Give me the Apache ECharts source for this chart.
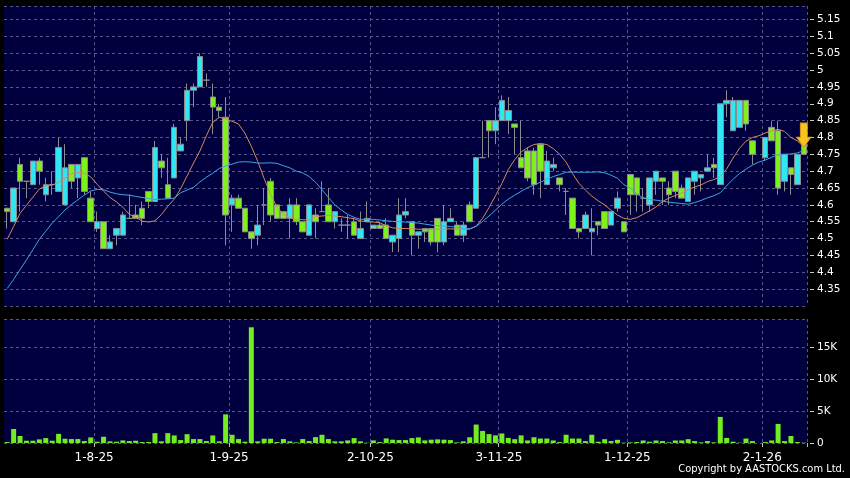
<!DOCTYPE html>
<html>
<head>
<meta charset="utf-8">
<script src="https://cdn.jsdelivr.net/npm/echarts@6/dist/echarts.min.js"></script>
<style>
html,body{margin:0;padding:0;background:#000;}
#chart{width:850px;height:478px;}
</style>
</head>
<body>
<div id="chart"></div>
<script>
const dates = [
'2025-07-14','2025-07-15','2025-07-16','2025-07-17','2025-07-18','2025-07-21','2025-07-22','2025-07-23','2025-07-24','2025-07-25',
'2025-07-28','2025-07-29','2025-07-30','2025-07-31','2025-08-01','2025-08-04','2025-08-05','2025-08-06','2025-08-07','2025-08-08',
'2025-08-11','2025-08-12','2025-08-13','2025-08-14','2025-08-15','2025-08-18','2025-08-19','2025-08-20','2025-08-21','2025-08-22',
'2025-08-25','2025-08-26','2025-08-27','2025-08-28','2025-08-29','2025-09-01','2025-09-02','2025-09-03','2025-09-04','2025-09-05',
'2025-09-08','2025-09-09','2025-09-10','2025-09-11','2025-09-12','2025-09-15','2025-09-16','2025-09-17','2025-09-18','2025-09-19',
'2025-09-22','2025-09-23','2025-09-24','2025-09-25','2025-09-26','2025-09-29','2025-09-30','2025-10-02','2025-10-03','2025-10-06',
'2025-10-08','2025-10-09','2025-10-10','2025-10-13','2025-10-14','2025-10-15','2025-10-16','2025-10-17','2025-10-20','2025-10-21',
'2025-10-22','2025-10-23','2025-10-24','2025-10-27','2025-10-28','2025-10-30','2025-10-31','2025-11-03','2025-11-04','2025-11-05',
'2025-11-06','2025-11-07','2025-11-10','2025-11-11','2025-11-12','2025-11-13','2025-11-14','2025-11-17','2025-11-18','2025-11-19',
'2025-11-20','2025-11-21','2025-11-24','2025-11-25','2025-11-26','2025-11-27','2025-11-28','2025-12-01','2025-12-02','2025-12-03',
'2025-12-04','2025-12-05','2025-12-08','2025-12-09','2025-12-10','2025-12-11','2025-12-12','2025-12-15','2025-12-16','2025-12-17',
'2025-12-18','2025-12-19','2025-12-22','2025-12-23','2025-12-24','2025-12-29','2025-12-30','2025-12-31','2026-01-02','2026-01-05',
'2026-01-06','2026-01-07','2026-01-08','2026-01-09','2026-01-12'
];
const opens = [
4.59,4.55,4.72,4.67,4.66,4.73,4.63,4.66,4.64,4.60,
4.72,4.68,4.74,4.62,4.53,4.55,4.47,4.51,4.51,4.56,
4.57,4.59,4.64,4.61,4.73,4.66,4.68,4.76,4.85,4.94,
4.95,4.97,4.92,4.89,4.86,4.60,4.62,4.59,4.52,4.51,
4.60,4.67,4.60,4.58,4.56,4.60,4.55,4.51,4.57,4.58,
4.60,4.55,4.54,4.54,4.55,4.50,4.55,4.53,4.54,4.54,
4.49,4.50,4.57,4.55,4.51,4.53,4.53,4.56,4.49,4.55,
4.54,4.51,4.60,4.59,4.74,4.85,4.82,4.85,4.85,4.84,
4.74,4.76,4.76,4.78,4.66,4.71,4.68,4.64,4.62,4.53,
4.53,4.52,4.55,4.58,4.54,4.59,4.55,4.69,4.68,4.62,
4.60,4.67,4.68,4.65,4.70,4.65,4.61,4.67,4.68,4.70,
4.72,4.66,4.90,4.82,4.83,4.91,4.79,null,4.74,4.83,
4.82,4.67,4.71,4.66,4.79
];
const closes = [
4.58,4.65,4.67,4.67,4.73,4.70,4.66,4.66,4.77,4.71,
4.67,4.72,4.64,4.55,4.55,4.47,4.49,4.53,4.57,4.56,
4.56,4.56,4.61,4.77,4.71,4.62,4.83,4.78,4.94,4.95,
5.04,4.97,4.89,4.88,4.57,4.62,4.59,4.52,4.50,4.54,
4.60,4.57,4.56,4.56,4.60,4.55,4.52,4.60,4.55,4.58,
4.55,4.58,4.54,4.54,4.51,4.53,4.56,4.54,4.53,4.50,
4.51,4.57,4.58,4.51,4.52,4.52,4.49,4.49,4.55,4.56,
4.51,4.54,4.55,4.74,4.74,4.82,4.85,4.91,4.88,4.83,
4.71,4.68,4.66,4.70,4.73,4.72,4.66,4.64,4.53,4.52,
4.57,4.53,4.54,4.53,4.58,4.62,4.52,4.63,4.63,4.62,
4.68,4.70,4.67,4.63,4.64,4.62,4.68,4.70,4.69,4.71,
4.71,4.90,4.91,4.91,4.91,4.84,4.75,null,4.80,4.79,
4.65,4.75,4.69,4.75,4.75
];
const lows = [
4.53,4.55,4.58,4.62,4.66,4.66,4.61,4.63,4.64,4.60,
4.65,4.62,4.63,4.55,4.52,4.47,4.47,4.48,4.51,4.56,
4.56,4.54,4.59,4.61,4.68,4.62,4.68,4.76,4.79,4.89,
4.95,4.95,4.81,4.86,4.48,4.52,4.59,4.52,4.47,4.48,
4.54,4.55,4.56,4.56,4.50,4.54,4.52,4.51,4.50,4.58,
4.55,4.53,4.52,4.50,4.51,4.50,4.55,4.53,4.53,4.50,
4.46,4.46,4.56,4.45,4.47,4.49,4.48,4.46,4.48,4.55,
4.51,4.49,4.55,4.59,4.74,4.74,4.78,4.85,4.81,4.75,
4.71,4.67,4.63,4.62,4.66,4.70,4.64,4.57,4.53,4.50,
4.53,4.45,4.51,4.53,4.54,4.58,4.52,4.57,4.58,4.58,
4.58,4.63,4.60,4.60,4.62,4.62,4.61,4.63,4.64,4.70,
4.68,4.66,4.86,4.82,4.83,4.82,4.72,null,4.73,4.79,
4.63,4.64,4.63,4.66,4.75
];
const highs = [
4.59,4.65,4.74,4.67,4.73,4.74,4.68,4.70,4.80,4.78,
4.72,4.72,4.74,4.64,4.58,4.55,4.51,4.53,4.58,4.63,
4.60,4.61,4.64,4.79,4.75,4.74,4.84,4.80,4.96,4.96,
5.05,4.99,4.96,4.90,4.92,4.63,4.63,4.59,4.52,4.60,
4.65,4.68,4.60,4.58,4.62,4.62,4.55,4.60,4.59,4.67,
4.65,4.58,4.56,4.57,4.56,4.58,4.61,4.54,4.55,4.56,
4.51,4.62,4.62,4.55,4.52,4.53,4.53,4.56,4.60,4.59,
4.55,4.55,4.61,4.74,4.85,4.85,4.89,4.925,4.92,4.84,
4.85,4.77,4.77,4.78,4.76,4.74,4.68,4.65,4.62,4.53,
4.58,4.59,4.55,4.58,4.58,4.64,4.55,4.69,4.68,4.65,
4.68,4.70,4.68,4.67,4.70,4.66,4.68,4.70,4.69,4.75,
4.74,4.90,4.94,4.92,4.91,4.91,4.79,null,4.80,4.85,
4.85,4.75,4.71,4.75,4.79
];
const volumes = [
150,2200,1100,360,360,570,770,360,1440,670,
620,620,310,880,200,980,260,200,410,310,
360,150,150,1550,260,1550,1190,460,1390,620,
620,310,1190,260,4500,1290,620,200,18200,260,
670,670,150,620,260,100,620,310,930,1290,
620,260,260,410,770,260,50,410,150,720,
520,460,460,770,880,410,520,570,520,460,
100,260,900,2900,1900,1400,1200,1500,800,600,
1200,400,900,700,700,400,150,1300,700,700,
300,1300,200,600,300,500,50,100,150,400,
200,400,300,100,400,400,600,300,100,300,
100,4100,800,200,50,700,300,0,150,400,
3000,300,1100,150,50
];
const ma10 = [
4.498,4.536,4.575,4.599,4.623,4.647,4.657,4.659,4.667,4.68,
4.692,4.696,4.694,4.683,4.661,4.641,4.622,4.609,4.593,4.572,
4.563,4.552,4.549,4.553,4.571,4.596,4.617,4.648,4.686,4.724,
4.76,4.805,4.845,4.86,4.855,4.848,4.84,4.813,4.774,4.729,
4.678,4.632,4.592,4.573,4.561,4.557,4.556,4.555,4.565,4.567,
4.569,4.567,4.565,4.562,4.559,4.552,4.55,4.549,4.547,4.538,
4.532,4.53,4.53,4.529,4.528,4.527,4.527,4.527,4.528,4.529,
4.528,4.527,4.528,4.537,4.56,4.592,4.627,4.663,4.705,4.734,
4.757,4.77,4.779,4.782,4.779,4.767,4.75,4.727,4.693,4.664,
4.644,4.626,4.612,4.60,4.584,4.57,4.56,4.557,4.562,4.572,
4.582,4.594,4.61,4.62,4.628,4.635,4.645,4.653,4.659,4.669,
4.675,4.684,4.707,4.739,4.768,4.789,4.80,4.805,4.813,4.82,
4.824,4.818,4.80,4.79,4.772
];
const ma20 = [
4.352,4.379,4.408,4.437,4.467,4.498,4.522,4.546,4.565,4.585,
4.601,4.615,4.629,4.641,4.646,4.645,4.638,4.633,4.63,4.629,
4.625,4.622,4.619,4.616,4.617,4.618,4.62,4.636,4.644,4.652,
4.668,4.682,4.694,4.708,4.715,4.721,4.727,4.728,4.727,4.724,
4.724,4.725,4.723,4.716,4.71,4.70,4.695,4.684,4.667,4.645,
4.622,4.60,4.585,4.572,4.563,4.557,4.557,4.557,4.555,4.553,
4.551,4.55,4.549,4.548,4.546,4.543,4.54,4.538,4.537,4.536,
4.533,4.531,4.529,4.536,4.551,4.567,4.584,4.602,4.617,4.629,
4.64,4.651,4.659,4.667,4.676,4.684,4.69,4.697,4.697,4.697,
4.697,4.697,4.698,4.695,4.688,4.679,4.66,4.65,4.633,4.62,
4.616,4.614,4.611,4.608,4.606,4.604,4.602,4.607,4.613,4.621,
4.627,4.636,4.657,4.676,4.693,4.706,4.718,4.727,4.733,4.741,
4.749,4.75,4.751,4.754,4.761
];
const tickDates = ['2025-08-01','2025-09-01','2025-10-02','2025-11-03','2025-12-01','2026-01-02'];
const tickLabels = ['1-8-25','1-9-25','2-10-25','3-11-25','1-12-25','2-1-26'];
const arrowPrice = 4.807;

const candleData = dates.map((d, i) => opens[i] == null ? '-' : [opens[i], closes[i], lows[i], highs[i]]);
const isTick = (idx, val) => tickDates.indexOf(val) >= 0;

const gridLine = { show: true, lineStyle: { color: '#56568a', width: 1, type: [3, 3] } };
const FONT = 'DejaVu Sans';

const chart = echarts.init(document.getElementById('chart'), null, { renderer: 'canvas' });
chart.setOption({
  animation: false,
  backgroundColor: '#000000',
  grid: [
    { left: 4, right: 43, top: 6, height: 300, show: true, backgroundColor: '#00003f', borderWidth: 0 },
    { left: 4, right: 43, top: 319, height: 124, show: true, backgroundColor: '#00003f', borderWidth: 0 }
  ],
  xAxis: [
    { type: 'category', gridIndex: 0, data: dates, boundaryGap: true,
      axisLine: { show: false }, axisTick: { show: false, interval: isTick }, axisLabel: { show: false, interval: isTick },
      splitLine: Object.assign({ interval: isTick }, gridLine) },
    { type: 'category', gridIndex: 1, data: dates, boundaryGap: true,
      axisLine: { show: false },
      axisTick: { show: true, interval: isTick, length: 4, lineStyle: { color: '#bbbbbb' } },
      axisLabel: { show: true, interval: isTick, color: '#ffffff', fontFamily: FONT, fontSize: 12, margin: 9,
        padding: [0, 6, 0, 0],
        formatter: v => { const k = tickDates.indexOf(v); return k >= 0 ? tickLabels[k] : ''; } },
      splitLine: Object.assign({ interval: isTick }, gridLine) }
  ],
  yAxis: [
    { type: 'value', gridIndex: 0, position: 'right', min: 4.30, max: 5.19, interval: 0.05, offset: 3,
      axisLine: { show: false },
      axisTick: { show: true, length: 4, lineStyle: { color: '#cccccc' } },
      axisLabel: { color: '#ffffff', fontFamily: FONT, fontSize: 10.5, margin: 7, showMinLabel: false, showMaxLabel: false },
      splitLine: gridLine },
    { type: 'value', gridIndex: 1, position: 'right', min: 0, max: 19500, interval: 5000, offset: 3,
      axisLine: { show: false },
      axisTick: { show: true, length: 4, lineStyle: { color: '#cccccc' } },
      axisLabel: { color: '#ffffff', fontFamily: FONT, fontSize: 10.5, margin: 7, showMaxLabel: false,
        formatter: v => v === 0 ? '0' : (v / 1000) + 'K' },
      splitLine: gridLine }
  ],
  series: [
    { type: 'candlestick', xAxisIndex: 0, yAxisIndex: 0, data: candleData, barWidth: 6,
      itemStyle: { color: '#2fe6f2', color0: '#7ef01a', borderColor: '#8c8c8c', borderColor0: '#8c8c8c', borderWidth: 1 },
      markPoint: {
        symbol: 'path://M3,0 L9,0 L9,13 L12,13 L6,22 L0,13 L3,13 Z',
        symbolSize: [14, 24],
        symbolKeepAspect: false,
        label: { show: false },
        itemStyle: { color: '#f6c520', borderColor: '#e89a10', borderWidth: 1 },
        data: [{ coord: [dates[dates.length - 1], arrowPrice] }]
      },
      z: 2 },
    { type: 'line', xAxisIndex: 0, yAxisIndex: 0, data: ma10, showSymbol: false, symbol: 'none',
      lineStyle: { color: '#d8895a', width: 1 }, z: 3 },
    { type: 'line', xAxisIndex: 0, yAxisIndex: 0, data: ma20, showSymbol: false, symbol: 'none',
      lineStyle: { color: '#3ea4e4', width: 1 }, z: 3 },
    { type: 'bar', xAxisIndex: 1, yAxisIndex: 1, data: volumes, barWidth: 5,
      itemStyle: { color: '#72ee1e' } }
  ],
  graphic: [
    { type: 'text', right: 5, top: 464,
      style: { text: 'Copyright by AASTOCKS.com Ltd.', fill: '#ffffff', font: '11px "DejaVu Sans Condensed", "Liberation Sans Narrow", "DejaVu Sans"' } }
  ]
});
</script>
</body>
</html>
